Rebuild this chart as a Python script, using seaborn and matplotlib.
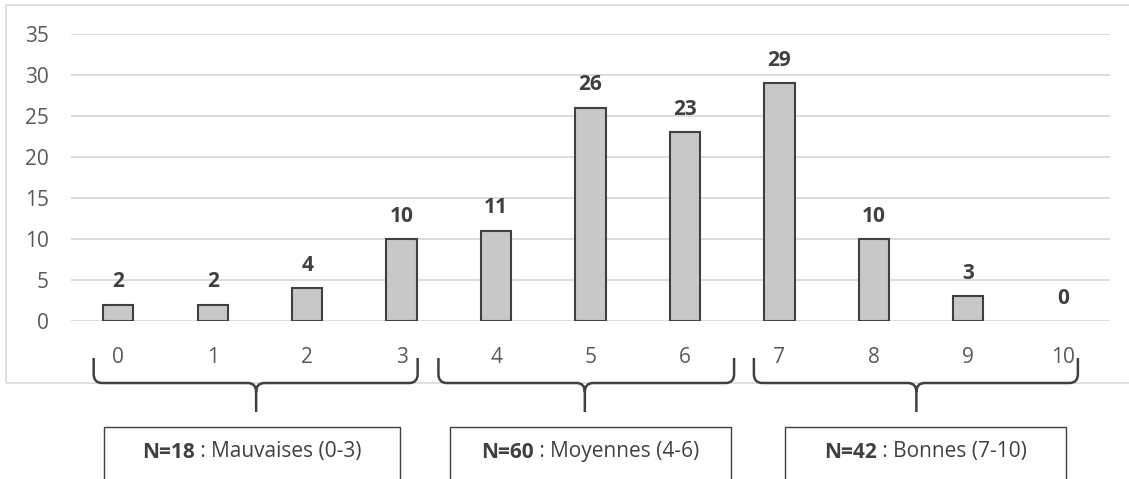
import matplotlib
matplotlib.use("Agg")
import matplotlib.pyplot as plt
import matplotlib.transforms as mtransforms
from matplotlib.path import Path
from matplotlib.patches import PathPatch, Rectangle
import pandas as pd
import seaborn as sns

# data
notes = ["0", "1", "2", "3", "4", "5", "6", "7", "8", "9", "10"]
counts = [2, 2, 4, 10, 11, 26, 23, 29, 10, 3, 0]

# groups: (first note, last note, label)
group_labels = ["Mauvaises (0-3)", "Moyennes (4-6)", "Bonnes (7-10)"]
group_ranges = [(0, 3), (4, 6), (7, 10)]

# brace / box placement along the x axis (data units)
brace_spans = [(-0.26, 3.17, 1.46), (3.39, 6.52, 4.94), (6.73, 10.16, 8.45)]
box_spans = [(-0.15, 2.98), (3.51, 6.49), (7.06, 10.03)]

W, H = 1129, 479
dark = "#404040"
grey_txt = "#595959"
grid_col = "#d9d9d9"

sns.set_style("white")
plt.rcParams["font.family"] = ["Open Sans", "DejaVu Sans"]

fig = plt.figure(figsize=(W / 100, H / 100), dpi=100)
ax = fig.add_axes([71 / W, 1 - 321 / H, (1110 - 71) / W, (321 - 34) / H])

df = pd.DataFrame({"note": notes, "n": counts})
sns.barplot(data=df, x="note", y="n", order=notes, color="#c8c8c8",
            edgecolor=dark, linewidth=1.5, width=0.32, saturation=1, ax=ax, zorder=3)

# empty bars get no outline
for patch, v in zip(ax.patches, counts):
    if v == 0:
        patch.set_linewidth(0)

ax.set_xlim(-0.5, len(notes) - 0.5)
ax.set_ylim(0, 35)
ax.set_yticks(range(0, 36, 5))
ax.yaxis.grid(True, color=grid_col, linewidth=1.3, zorder=0)
ax.set_axisbelow(True)
for s in ax.spines.values():
    s.set_visible(False)
ax.set_xlabel("")
ax.set_ylabel("")
ax.tick_params(axis="y", length=0, pad=16, labelsize=15, labelcolor=grey_txt)
ax.tick_params(axis="x", length=0, pad=19, labelsize=15, labelcolor=grey_txt)

for c in ax.containers:
    ax.bar_label(c, padding=9, fontsize=15, fontweight="bold", color=dark)

# outer chart border
fig.patches.append(Rectangle((6 / W, 1 - 383 / H), 1.2, (383 - 5) / H,
                             transform=fig.transFigure, fill=False,
                             edgecolor=grid_col, linewidth=1.2, zorder=0))

# braces: x in data, y in figure pixels (from top)
tr = mtransforms.blended_transform_factory(ax.transData, fig.transFigure)

def fy(y):
    return 1 - y / H

dx = 0.09
for x0, x1, xc in brace_spans:
    verts = [
        (x0, fy(358)), (x0, fy(374)),
        (x0, fy(383)), (x0 + dx, fy(383)),
        (xc - dx, fy(383)),
        (xc, fy(383)), (xc, fy(392)),
        (xc, fy(412)),
        (xc, fy(392)),
        (xc, fy(383)), (xc + dx, fy(383)),
        (x1 - dx, fy(383)),
        (x1, fy(383)), (x1, fy(374)),
        (x1, fy(358)),
    ]
    codes = [Path.MOVETO, Path.LINETO,
             Path.CURVE3, Path.CURVE3,
             Path.LINETO,
             Path.CURVE3, Path.CURVE3,
             Path.LINETO,
             Path.MOVETO,
             Path.CURVE3, Path.CURVE3,
             Path.LINETO,
             Path.CURVE3, Path.CURVE3,
             Path.LINETO]
    p = PathPatch(Path(verts, codes), transform=tr, fill=False,
                  edgecolor=dark, linewidth=1.8, clip_on=False)
    fig.patches.append(p)

# boxes with group counts
texts = []
for (b0, b1), (g0, g1), lab in zip(box_spans, group_ranges, group_labels):
    n = sum(counts[g0:g1 + 1])
    fig.patches.append(Rectangle((b0, fy(490)), b1 - b0, (490 - 427) / H,
                                 transform=tr, facecolor="white",
                                 edgecolor=dark, linewidth=1.0, clip_on=False))
    t1 = fig.text(b0, fy(452), f"N={n}", transform=tr, fontsize=15,
                  fontweight="bold", color=dark, va="center", ha="left")
    t2 = fig.text(0, 0, f" : {lab}", fontsize=15, color=dark,
                  va="center", ha="left")
    texts.append((t1, t2, (b0 + b1) / 2))

fig.canvas.draw()
r = fig.canvas.get_renderer()
for t1, t2, xc in texts:
    w1 = t1.get_window_extent(r).width
    w2 = t2.get_window_extent(r).width
    cx = ax.transData.transform((xc, 0))[0]
    left = cx - (w1 + w2) / 2
    y = fy(452) * H
    t1.set_transform(mtransforms.IdentityTransform())
    t1.set_position((left, y))
    t2.set_transform(mtransforms.IdentityTransform())
    t2.set_position((left + w1, y))

fig.savefig("out.png", dpi=100)
